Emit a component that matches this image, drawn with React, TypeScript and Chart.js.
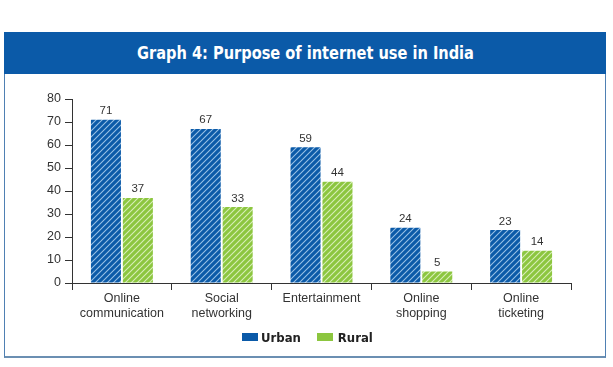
import React, { useEffect, useRef } from "react";
import { Chart, registerables } from "chart.js";

Chart.register(...registerables);

const categories: string[][] = [
  ["Online", "communication"],
  ["Social", "networking"],
  ["Entertainment"],
  ["Online", "shopping"],
  ["Online", "ticketing"],
];
const urban: number[] = [71, 67, 59, 24, 23];
const rural: number[] = [37, 33, 44, 5, 14];
const yTicks: number[] = [0, 10, 20, 30, 40, 50, 60, 70, 80];

const TITLE = "Graph 4: Purpose of internet use in India";
const BLUE = "#0b5aa8";
const GREEN = "#8cc63f";
const TEXT = "#333333";
const CONDENSED = '"Liberation Sans Narrow", "DejaVu Sans Condensed", "Roboto", Arial, sans-serif';

function makePattern(base: string, line: string): CanvasPattern | string {
  const size = 6;
  const c = document.createElement("canvas");
  c.width = size;
  c.height = size;
  const g = c.getContext("2d");
  if (!g) return base;
  g.fillStyle = base;
  g.fillRect(0, 0, size, size);
  g.strokeStyle = line;
  g.lineWidth = 1.1;
  g.beginPath();
  g.moveTo(-1, size + 1);
  g.lineTo(size + 1, -1);
  g.moveTo(-1, 1);
  g.lineTo(1, -1);
  g.moveTo(size - 1, size + 1);
  g.lineTo(size + 1, size - 1);
  g.stroke();
  const p = g.createPattern(c, "repeat");
  return p || base;
}

const valueLabels = {
  id: "valueLabels",
  afterDatasetsDraw(chart: any) {
    const ctx = chart.ctx;
    ctx.save();
    ctx.font = '11.5px "Liberation Sans", Arial, sans-serif';
    ctx.fillStyle = TEXT;
    ctx.textAlign = "center";
    ctx.textBaseline = "bottom";
    chart.data.datasets.forEach((ds: any, i: number) => {
      const meta = chart.getDatasetMeta(i);
      meta.data.forEach((el: any, j: number) => {
        ctx.fillText(String(ds.data[j]), el.x, el.y - 3);
      });
    });
    ctx.restore();
  },
};

export default function App() {
  const ref = useRef<HTMLCanvasElement | null>(null);

  useEffect(() => {
    document.body.style.margin = "0";
    const canvas = ref.current;
    if (!canvas) return;
    const chart = new Chart(canvas, {
      type: "bar",
      data: {
        labels: categories,
        datasets: [
          {
            label: "Urban",
            data: urban,
            backgroundColor: makePattern(BLUE, "rgba(200,225,250,0.75)") as any,
            borderWidth: 0,
            categoryPercentage: 0.64,
            barPercentage: 0.94,
          },
          {
            label: "Rural",
            data: rural,
            backgroundColor: makePattern(GREEN, "rgba(235,248,215,0.8)") as any,
            borderWidth: 0,
            categoryPercentage: 0.64,
            barPercentage: 0.94,
          },
        ],
      },
      options: {
        responsive: false,
        animation: false,
        devicePixelRatio: 1,
        layout: { padding: { top: 99, right: 42, bottom: 0, left: 0 } },
        plugins: {
          legend: { display: false },
          tooltip: { enabled: false },
          title: { display: false },
        },
        scales: {
          x: {
            type: "category",
            offset: true,
            grid: {
              display: true,
              offset: true,
              drawOnChartArea: false,
              drawTicks: true,
              tickLength: 7,
              color: TEXT,
              lineWidth: 1,
            },
            border: { display: true, color: TEXT, width: 1 },
            ticks: {
              color: TEXT,
              font: { family: '"Liberation Sans", Arial, sans-serif', size: 12.5 },
              padding: 1,
              maxRotation: 0,
              autoSkip: false,
            },
            afterFit: (s: any) => {
              s.height = 84;
            },
          },
          y: {
            min: 0,
            max: 80,
            afterBuildTicks: (s: any) => {
              s.ticks = yTicks.map((v) => ({ value: v }));
            },
            grid: {
              display: true,
              drawOnChartArea: false,
              drawTicks: true,
              tickLength: 7,
              color: TEXT,
              lineWidth: 1,
            },
            border: { display: true, color: TEXT, width: 1 },
            ticks: {
              color: TEXT,
              font: { family: '"Liberation Sans", Arial, sans-serif', size: 12.5 },
              padding: 4,
            },
            afterFit: (s: any) => {
              s.width = 72;
            },
          },
        },
      },
      plugins: [valueLabels],
    });
    return () => chart.destroy();
  }, []);

  return (
    <div style={{ position: "relative", width: 613, height: 367, background: "#ffffff", overflow: "hidden" }}>
      <div
        style={{
          position: "absolute",
          left: 4,
          top: 32,
          width: 600,
          height: 323,
          border: "1px solid #4f80b3",
          borderBottom: "2px solid #6b8fb2",
        }}
      />
      <div
        style={{
          position: "absolute",
          left: 4,
          top: 32,
          width: 602,
          height: 42,
          background: BLUE,
        }}
      />
      <div
        style={{
          position: "absolute",
          left: 4,
          top: 32,
          width: 602,
          height: 42,
          color: "#ffffff",
          fontFamily: CONDENSED,
          fontWeight: "bold",
          fontSize: 18,
          lineHeight: "42px",
          textAlign: "center",
          transform: "scaleX(0.9)",
          transformOrigin: "306px 21px",
          whiteSpace: "nowrap",
        }}
      >
        {TITLE}
      </div>
      <canvas ref={ref} width={613} height={367} style={{ position: "absolute", left: 0, top: 0 }} />
      <div
        style={{
          position: "absolute",
          left: 242,
          top: 329,
          height: 16,
          display: "flex",
          alignItems: "center",
          fontFamily: CONDENSED,
          fontWeight: "bold",
          fontSize: 13,
          color: "#222222",
        }}
      >
        <span style={{ display: "inline-block", width: 16, height: 8, background: BLUE, marginRight: 3 }} />
        <span style={{ marginRight: 16 }}>Urban</span>
        <span style={{ display: "inline-block", width: 16, height: 8, background: GREEN, marginRight: 5 }} />
        <span>Rural</span>
      </div>
    </div>
  );
}
